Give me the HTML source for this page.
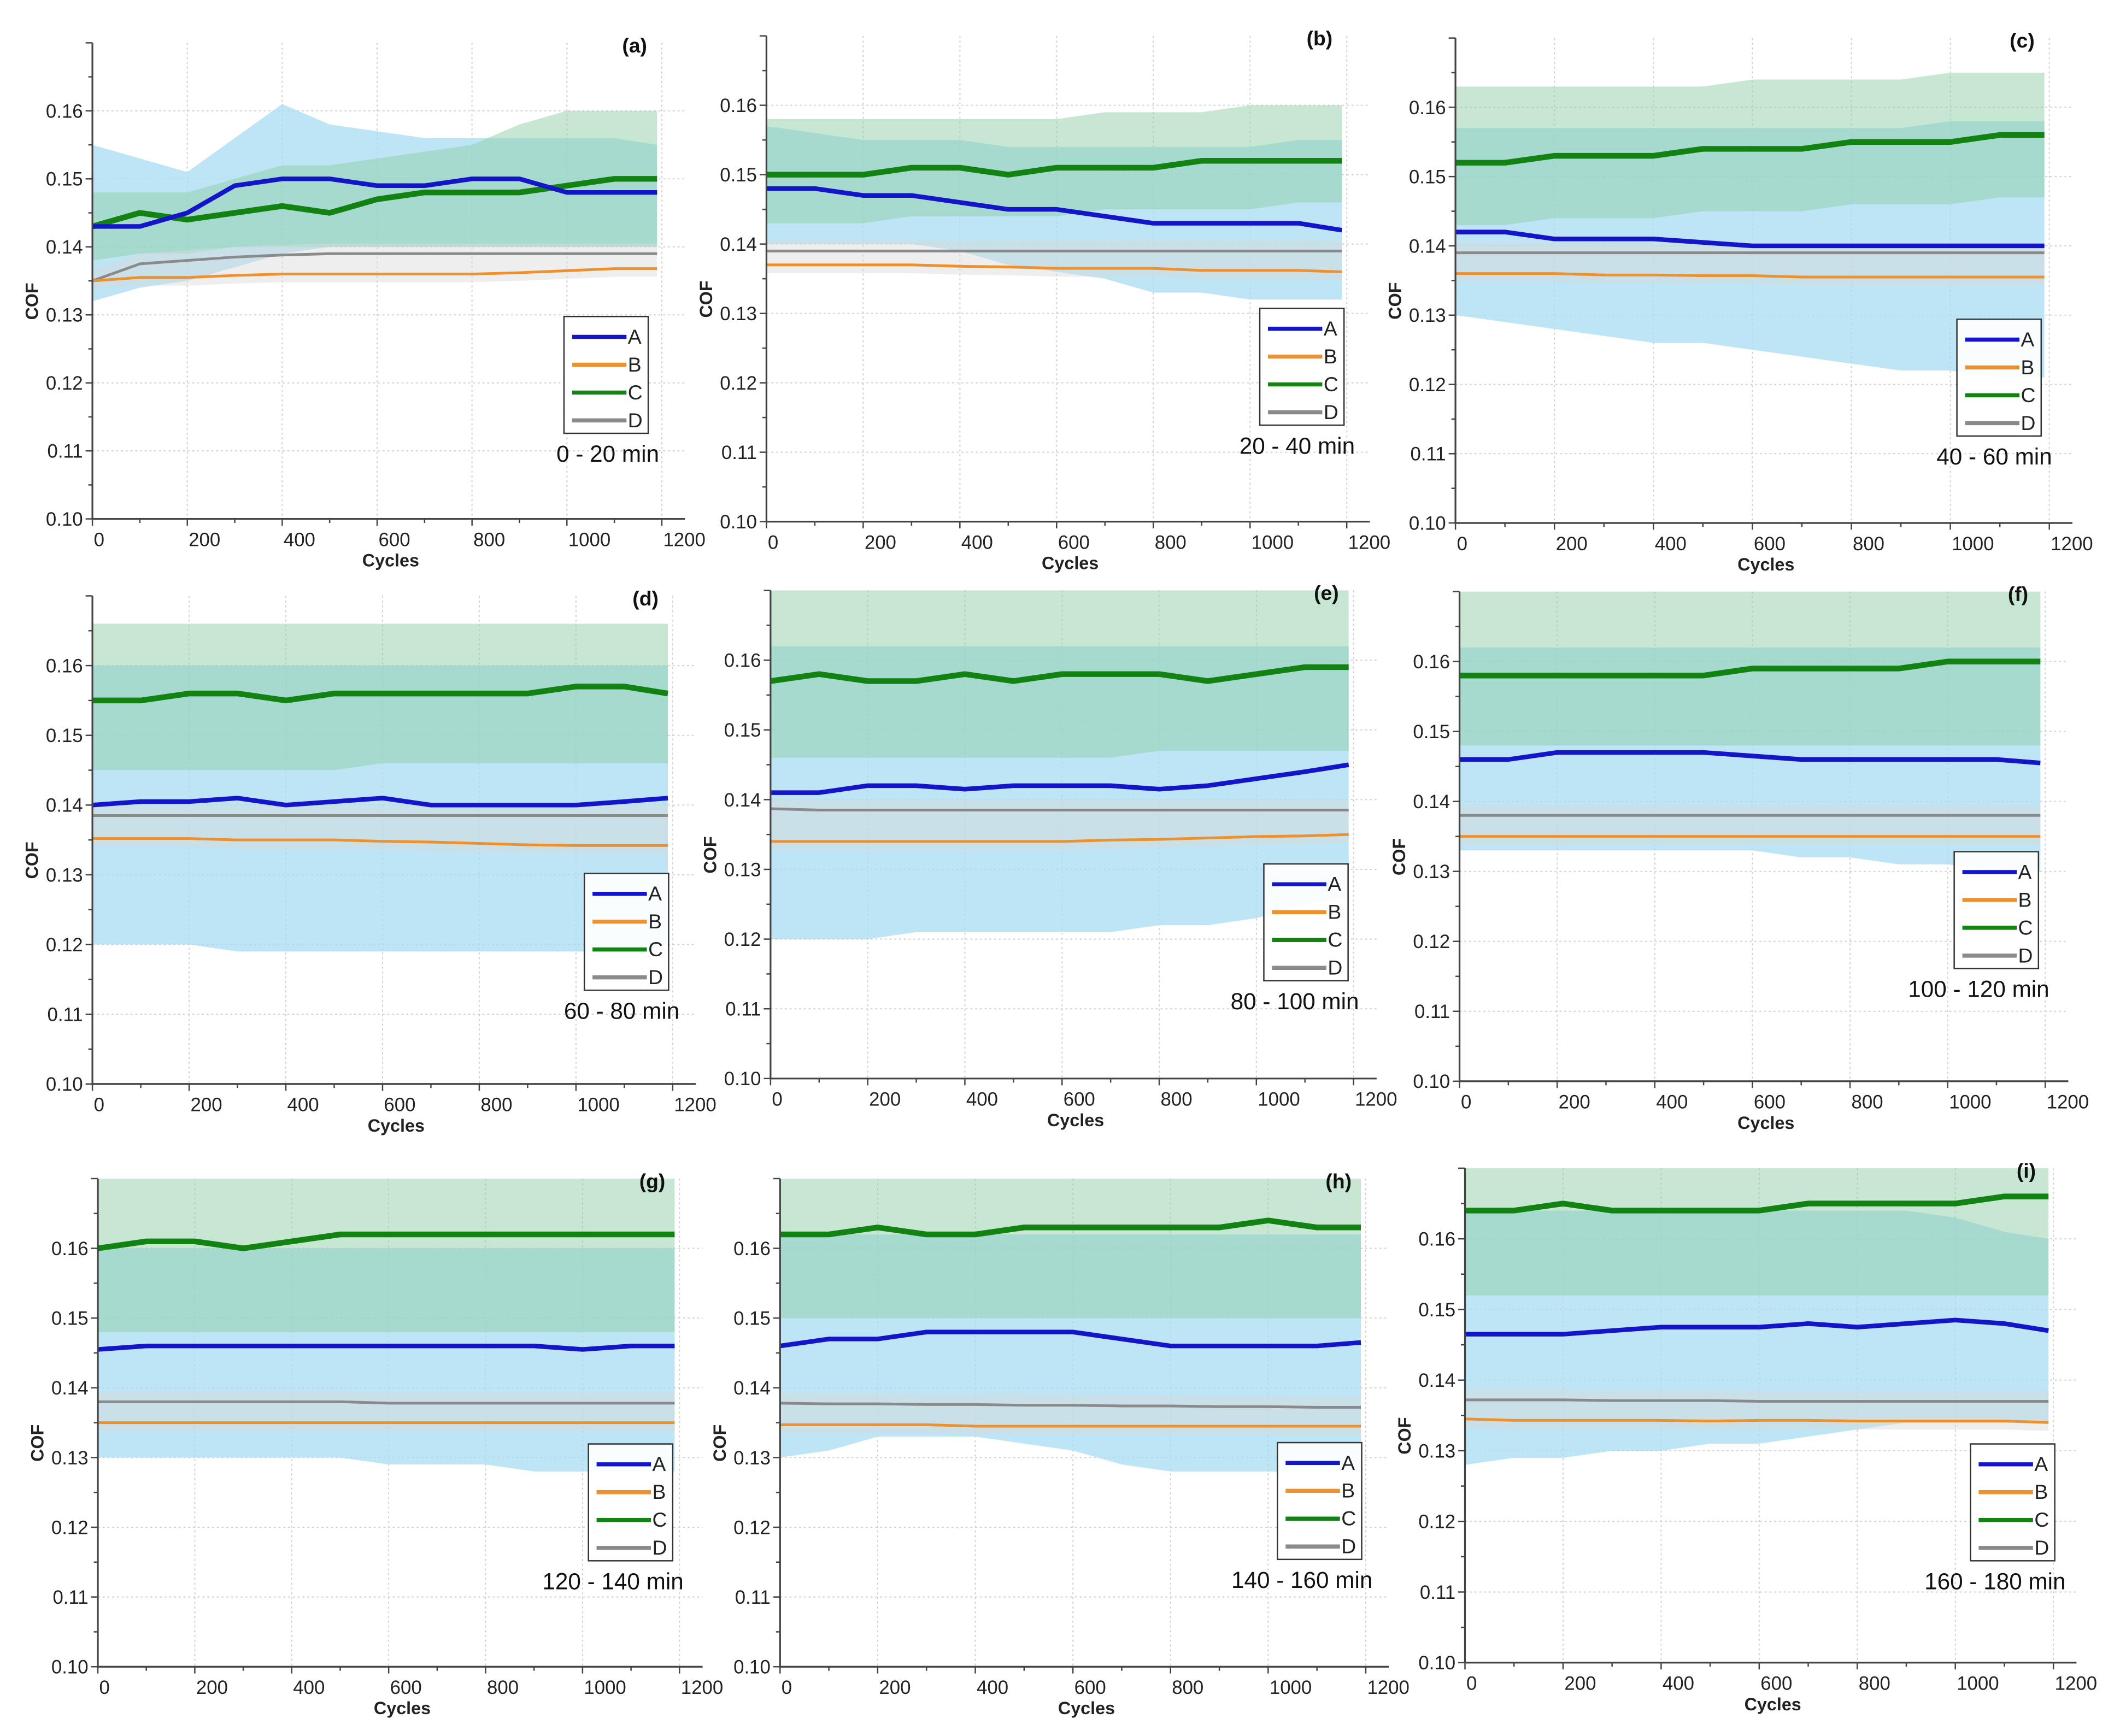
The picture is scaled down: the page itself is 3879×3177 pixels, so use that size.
<!DOCTYPE html>
<html><head><meta charset="utf-8"><style>
html,body{margin:0;padding:0;background:#fff;}
svg{display:block;font-family:"Liberation Sans",sans-serif;}
</style></head><body>
<svg id="fig" width="3879" height="3177" viewBox="0 0 1560 1278" preserveAspectRatio="none" xmlns="http://www.w3.org/2000/svg"></svg>
<script>
const cycles = [0,100,200,300,400,500,600,700,800,900,1000,1100,1190];
const panelLetters = ["(a)","(b)","(c)","(d)","(e)","(f)","(g)","(h)","(i)"];
const panelTimes = ["0 - 20 min","20 - 40 min","40 - 60 min","60 - 80 min","80 - 100 min","100 - 120 min","120 - 140 min","140 - 160 min","160 - 180 min"];
const yTicks = [0.10,0.11,0.12,0.13,0.14,0.15,0.16];
const xTicks = [0,200,400,600,800,1000,1200];
const seriesNames = ["A","B","C","D"];

const seriesA = [
 [0.143,0.143,0.145,0.149,0.150,0.150,0.149,0.149,0.150,0.150,0.148,0.148,0.148],
 [0.148,0.148,0.147,0.147,0.146,0.145,0.145,0.144,0.143,0.143,0.143,0.143,0.142],
 [0.142,0.142,0.141,0.141,0.141,0.1405,0.140,0.140,0.140,0.140,0.140,0.140,0.140],
 [0.140,0.1405,0.1405,0.141,0.140,0.1405,0.141,0.140,0.140,0.140,0.140,0.1405,0.141],
 [0.141,0.141,0.142,0.142,0.1415,0.142,0.142,0.142,0.1415,0.142,0.143,0.144,0.145],
 [0.146,0.146,0.147,0.147,0.147,0.147,0.1465,0.146,0.146,0.146,0.146,0.146,0.1455],
 [0.1455,0.146,0.146,0.146,0.146,0.146,0.146,0.146,0.146,0.146,0.1455,0.146,0.146],
 [0.146,0.147,0.147,0.148,0.148,0.148,0.148,0.147,0.146,0.146,0.146,0.146,0.1465],
 [0.1465,0.1465,0.1465,0.147,0.1475,0.1475,0.1475,0.148,0.1475,0.148,0.1485,0.148,0.147]
];
const seriesB = [
 [0.135,0.1355,0.1355,0.1358,0.136,0.136,0.136,0.136,0.136,0.1362,0.1365,0.1368,0.1368],
 [0.137,0.137,0.137,0.137,0.1368,0.1367,0.1365,0.1365,0.1365,0.1362,0.1362,0.1362,0.136],
 [0.136,0.136,0.136,0.1358,0.1358,0.1357,0.1357,0.1355,0.1355,0.1355,0.1355,0.1355,0.1355],
 [0.1352,0.1352,0.1352,0.135,0.135,0.135,0.1348,0.1347,0.1345,0.1343,0.1342,0.1342,0.1342],
 [0.134,0.134,0.134,0.134,0.134,0.134,0.134,0.1342,0.1343,0.1345,0.1347,0.1348,0.135],
 [0.135,0.135,0.135,0.135,0.135,0.135,0.135,0.135,0.135,0.135,0.135,0.135,0.135],
 [0.135,0.135,0.135,0.135,0.135,0.135,0.135,0.135,0.135,0.135,0.135,0.135,0.135],
 [0.1347,0.1347,0.1347,0.1347,0.1345,0.1345,0.1345,0.1345,0.1345,0.1345,0.1345,0.1345,0.1345],
 [0.1345,0.1343,0.1343,0.1343,0.1343,0.1342,0.1343,0.1343,0.1342,0.1342,0.1342,0.1342,0.134]
];
const seriesC = [
 [0.143,0.145,0.144,0.145,0.146,0.145,0.147,0.148,0.148,0.148,0.149,0.150,0.150],
 [0.150,0.150,0.150,0.151,0.151,0.150,0.151,0.151,0.151,0.152,0.152,0.152,0.152],
 [0.152,0.152,0.153,0.153,0.153,0.154,0.154,0.154,0.155,0.155,0.155,0.156,0.156],
 [0.155,0.155,0.156,0.156,0.155,0.156,0.156,0.156,0.156,0.156,0.157,0.157,0.156],
 [0.157,0.158,0.157,0.157,0.158,0.157,0.158,0.158,0.158,0.157,0.158,0.159,0.159],
 [0.158,0.158,0.158,0.158,0.158,0.158,0.159,0.159,0.159,0.159,0.160,0.160,0.160],
 [0.160,0.161,0.161,0.160,0.161,0.162,0.162,0.162,0.162,0.162,0.162,0.162,0.162],
 [0.162,0.162,0.163,0.162,0.162,0.163,0.163,0.163,0.163,0.163,0.164,0.163,0.163],
 [0.164,0.164,0.165,0.164,0.164,0.164,0.164,0.165,0.165,0.165,0.165,0.166,0.166]
];
const seriesD = [
 [0.135,0.1375,0.138,0.1385,0.1388,0.139,0.139,0.139,0.139,0.139,0.139,0.139,0.139],
 [0.139,0.139,0.139,0.139,0.139,0.139,0.139,0.139,0.139,0.139,0.139,0.139,0.139],
 [0.139,0.139,0.139,0.139,0.139,0.139,0.139,0.139,0.139,0.139,0.139,0.139,0.139],
 [0.1385,0.1385,0.1385,0.1385,0.1385,0.1385,0.1385,0.1385,0.1385,0.1385,0.1385,0.1385,0.1385],
 [0.1387,0.1385,0.1385,0.1385,0.1385,0.1385,0.1385,0.1385,0.1385,0.1385,0.1385,0.1385,0.1385],
 [0.138,0.138,0.138,0.138,0.138,0.138,0.138,0.138,0.138,0.138,0.138,0.138,0.138],
 [0.138,0.138,0.138,0.138,0.138,0.138,0.1378,0.1378,0.1378,0.1378,0.1378,0.1378,0.1378],
 [0.1378,0.1377,0.1377,0.1376,0.1376,0.1375,0.1375,0.1374,0.1374,0.1373,0.1373,0.1372,0.1372],
 [0.1372,0.1372,0.1372,0.1371,0.1371,0.1371,0.137,0.137,0.137,0.137,0.137,0.137,0.137]
];
const bandAHi = [
 [0.155,0.153,0.151,0.156,0.161,0.158,0.157,0.156,0.156,0.156,0.156,0.156,0.155],
 [0.157,0.156,0.155,0.155,0.155,0.154,0.154,0.154,0.154,0.154,0.154,0.155,0.155],
 [0.157,0.157,0.157,0.157,0.157,0.157,0.157,0.157,0.157,0.157,0.158,0.158,0.158],
 [0.160,0.160,0.160,0.160,0.160,0.160,0.160,0.160,0.160,0.160,0.160,0.160,0.160],
 [0.162,0.162,0.162,0.162,0.162,0.162,0.162,0.162,0.162,0.162,0.162,0.162,0.162],
 [0.162,0.162,0.162,0.162,0.162,0.162,0.162,0.162,0.162,0.162,0.162,0.162,0.162],
 [0.160,0.160,0.160,0.160,0.160,0.160,0.160,0.160,0.160,0.160,0.160,0.160,0.160],
 [0.162,0.162,0.162,0.162,0.162,0.162,0.162,0.162,0.162,0.162,0.162,0.162,0.162],
 [0.164,0.164,0.164,0.164,0.164,0.164,0.164,0.164,0.164,0.164,0.163,0.161,0.160]
];
const bandALo = [
 [0.132,0.134,0.135,0.137,0.139,0.140,0.140,0.140,0.140,0.140,0.140,0.140,0.140],
 [0.140,0.140,0.140,0.140,0.139,0.137,0.136,0.135,0.133,0.133,0.132,0.132,0.132],
 [0.130,0.129,0.128,0.127,0.126,0.126,0.125,0.124,0.123,0.122,0.122,0.121,0.121],
 [0.120,0.120,0.120,0.119,0.119,0.119,0.119,0.119,0.119,0.119,0.119,0.119,0.120],
 [0.120,0.120,0.120,0.121,0.121,0.121,0.121,0.121,0.122,0.122,0.123,0.125,0.126],
 [0.133,0.133,0.133,0.133,0.133,0.133,0.133,0.132,0.132,0.131,0.131,0.130,0.130],
 [0.130,0.130,0.130,0.130,0.130,0.130,0.129,0.129,0.129,0.128,0.128,0.128,0.128],
 [0.130,0.131,0.133,0.133,0.133,0.132,0.131,0.129,0.128,0.128,0.128,0.128,0.128],
 [0.128,0.129,0.129,0.130,0.130,0.131,0.131,0.132,0.133,0.134,0.134,0.134,0.134]
];
const bandCHi = [
 [0.148,0.148,0.148,0.150,0.152,0.152,0.153,0.154,0.155,0.158,0.160,0.160,0.160],
 [0.158,0.158,0.158,0.158,0.158,0.158,0.158,0.159,0.159,0.159,0.160,0.160,0.160],
 [0.163,0.163,0.163,0.163,0.163,0.163,0.164,0.164,0.164,0.164,0.165,0.165,0.165],
 [0.166,0.166,0.166,0.166,0.166,0.166,0.166,0.166,0.166,0.166,0.166,0.166,0.166],
 [0.170,0.170,0.170,0.170,0.170,0.170,0.170,0.170,0.170,0.170,0.170,0.170,0.170],
 [0.170,0.170,0.170,0.170,0.170,0.170,0.170,0.170,0.170,0.170,0.170,0.170,0.170],
 [0.170,0.170,0.170,0.170,0.170,0.170,0.170,0.170,0.170,0.170,0.170,0.170,0.170],
 [0.170,0.170,0.170,0.170,0.170,0.170,0.170,0.170,0.170,0.170,0.170,0.170,0.170],
 [0.170,0.170,0.170,0.170,0.170,0.170,0.170,0.170,0.170,0.170,0.170,0.170,0.170]
];
const bandCLo = [
 [0.138,0.139,0.139,0.140,0.140,0.140,0.140,0.140,0.140,0.140,0.140,0.140,0.140],
 [0.143,0.143,0.143,0.144,0.144,0.144,0.144,0.145,0.145,0.145,0.145,0.146,0.146],
 [0.143,0.143,0.144,0.144,0.144,0.145,0.145,0.145,0.146,0.146,0.146,0.147,0.147],
 [0.145,0.145,0.145,0.145,0.145,0.145,0.146,0.146,0.146,0.146,0.146,0.146,0.146],
 [0.146,0.146,0.146,0.146,0.146,0.146,0.146,0.146,0.147,0.147,0.147,0.147,0.147],
 [0.148,0.148,0.148,0.148,0.148,0.148,0.148,0.148,0.148,0.148,0.148,0.148,0.148],
 [0.148,0.148,0.148,0.148,0.148,0.148,0.148,0.148,0.148,0.148,0.148,0.148,0.148],
 [0.150,0.150,0.150,0.150,0.150,0.150,0.150,0.150,0.150,0.150,0.150,0.150,0.150],
 [0.152,0.152,0.152,0.152,0.152,0.152,0.152,0.152,0.152,0.152,0.152,0.152,0.152]
];

const panelBox = [
 [68,487,382,81.6],[564,991,384,77.5],[1071,1508,385,79],
 [68,495,798,490],[567,996,794,486],[1074,1505,796,487],
 [72,500,1227,919],[574,1005,1227,919],[1078,1511,1224,912]
];
const legendBox = [
 [415,233],[927,227],[1440,235],[430,643],[930,636],[1438,627],[433,1063],[940,1062],[1450,1063]
];

const NS="http://www.w3.org/2000/svg";
const svg=document.getElementById('fig');
function mk(tag,attrs,parent){const e=document.createElementNS(NS,tag);for(const k in attrs)e.setAttribute(k,attrs[k]);(parent||svg).appendChild(e);return e;}
const colors={A:"#1414c8",B:"#f0902a",C:"#128212",D:"#8a8a8a"};

for(let p=0;p<9;p++){
  const [X0,X1,Y0,Y6]=panelBox[p];
  const xs=c=>X0+(X1-X0)*c/1200;
  const ys=v=>Y0+(Y6-Y0)*(v-0.10)/0.06;
  const g=mk('g',{});
  
  
  const yTop=ys(0.17), xEnd=X1+17;
  yTicks.forEach(t=>{const l=mk('line',{x1:X0,x2:xEnd,y1:ys(t),y2:ys(t),stroke:"#d0d0d0","stroke-width":0.8,"stroke-dasharray":"1.5,2"},g);
    });
  xTicks.forEach(t=>{const l=mk('line',{x1:xs(t),x2:xs(t),y1:yTop,y2:Y0,stroke:"#d0d0d0","stroke-width":0.8,"stroke-dasharray":"1.5,2"},g);
    });
  function band(hi,lo,fill,op,name){
    let d="M"+cycles.map((c,i)=>xs(c)+","+ys(Math.min(hi[i],0.17))).join(" L");
    for(let i=cycles.length-1;i>=0;i--) d+=" L"+xs(cycles[i])+","+ys(lo[i]);
    const e=mk('path',{d:d+"Z",fill:fill,"fill-opacity":op},g);
    
  }
  band(bandAHi[p],bandALo[p],"#a8dcf2",0.75,'band-a');
  band(bandCHi[p],bandCLo[p],"#8fd0a8",0.5,'band-c');
  band(seriesD[p].map(v=>v+0.0015),seriesB[p].map(v=>v-0.0012),"#d9d9d9",0.45,'band-bd');
  const sets={A:seriesA[p],B:seriesB[p],C:seriesC[p],D:seriesD[p]};
  const widths={A:3.4,B:2,C:4.2,D:2};
  ["D","B","C","A"].forEach(s=>{
    const pts=cycles.map((c,i)=>xs(c)+","+ys(sets[s][i])).join(" ");
    const e=mk('polyline',{points:pts,fill:"none",stroke:colors[s],"stroke-width":widths[s],"stroke-linejoin":"round"},g);
    
  });
  const ax=mk('path',{d:`M${X0},${yTop} L${X0},${Y0} L${xEnd},${Y0}`,fill:"none",stroke:"#444","stroke-width":1.3},g);
  
  for(let t=0.10;t<=0.1701;t+=0.005){
    const major=Math.abs(Math.round(t*100)-t*100)<1e-6;
    mk('line',{x1:X0-(major?5:3),x2:X0,y1:ys(t),y2:ys(t),stroke:"#444","stroke-width":1},g);
  }
  for(let c=0;c<=1200;c+=100){const major=c%200===0;
    mk('line',{x1:xs(c),x2:xs(c),y1:Y0,y2:Y0+(major?5:3),stroke:"#444","stroke-width":1},g);}
  yTicks.forEach(t=>{const e=mk('text',{x:X0-7,y:ys(t)+5,"text-anchor":"end","font-size":14,fill:"#222"},g);e.textContent=t.toFixed(2);
    });
  xTicks.forEach(t=>{const e=mk('text',{x:xs(t)+1,y:Y0+20,"font-size":14,fill:"#222"},g);e.textContent=String(t);
    });
  const xt=mk('text',{x:(X0+X1)/2+10,y:Y0+35,"text-anchor":"middle","font-size":13,"font-weight":"bold",fill:"#222"},g);xt.textContent="Cycles";
  
  const yx=X0-40, yy=(yTop+Y0)/2+15;
  const yt=mk('text',{x:yx,y:yy,transform:`rotate(-90 ${yx} ${yy})`,"text-anchor":"middle","font-size":13,"font-weight":"bold",fill:"#222"},g);yt.textContent="COF";
  
  const pl=mk('text',{x:X1-20,y:yTop+7,"text-anchor":"middle","font-size":15,"font-weight":"bold",fill:"#111"},g);pl.textContent=panelLetters[p];
  
  const [lx,ly]=legendBox[p];
  const lg=mk('g',{},g);
  
  mk('rect',{x:lx,y:ly,width:62,height:86,fill:"#fff","fill-opacity":0.9,stroke:"#333","stroke-width":1},lg);
  seriesNames.forEach((s,i)=>{
    const yy2=ly+15+i*20.5;
    const ln=mk('line',{x1:lx+6,x2:lx+46,y1:yy2,y2:yy2,stroke:colors[s],"stroke-width":3},lg);
    
    const tx=mk('text',{x:lx+47,y:yy2+5,"font-size":15,fill:"#222"},lg);tx.textContent=s;
    
  });
  const tm=mk('text',{x:lx+70,y:ly+107,"text-anchor":"end","font-size":17,fill:"#111"},g);tm.textContent=panelTimes[p];
  
}
</script>
</body></html>
